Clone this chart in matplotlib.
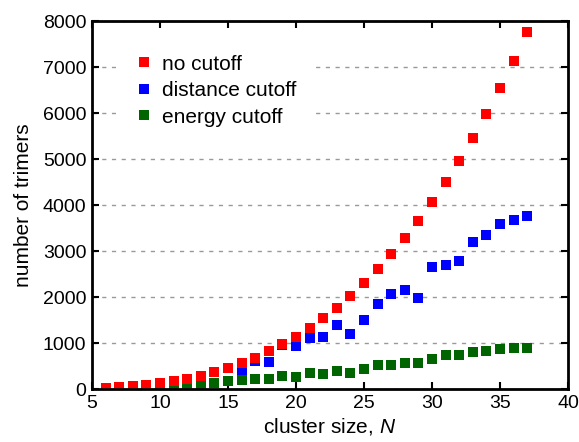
import matplotlib
matplotlib.use("Agg")
import matplotlib.pyplot as plt
from matplotlib.lines import Line2D

# ---- data ----
cluster_size = list(range(6, 38))
no_cutoff = [20, 35, 56, 84, 120, 165, 220, 286, 364, 455, 560, 680, 816, 969,
             1140, 1330, 1540, 1771, 2024, 2300, 2600, 2925, 3276, 3654, 4060,
             4495, 4960, 5456, 5984, 6545, 7140, 7770]
distance_cutoff = [20, 35, 56, 84, 120, 165, 220, 286, 364, 455, 410, 615, 590,
                   960, 938, 1115, 1137, 1391, 1203, 1493, 1841, 2058, 2145, 1985,
                   2645, 2696, 2783, 3189, 3348, 3580, 3667, 3768]
energy_cutoff = [5, 8, 12, 18, 25, 30, 40, 70, 130, 167, 189, 207, 207, 283, 261,
                 348, 333, 391, 355, 442, 514, 529, 565, 558, 659, 739, 739, 797,
                 819, 862, 891, 891]
series_labels = ["no cutoff", "distance cutoff", "energy cutoff"]
x_ticks = [5, 10, 15, 20, 25, 30, 35, 40]
y_ticks = [0, 1000, 2000, 3000, 4000, 5000, 6000, 7000, 8000]

plt.rcParams['font.family'] = ['Liberation Sans', 'DejaVu Sans']
plt.rcParams['mathtext.fontset'] = 'custom'
plt.rcParams['mathtext.rm'] = 'Liberation Sans'
plt.rcParams['mathtext.it'] = 'Liberation Sans:italic'

fig = plt.figure(figsize=(5.79, 4.42), dpi=100)
ax = fig.add_axes([92/579, 53/442, 476/579, 368/442])

ms = 7.3
ax.plot(cluster_size, energy_cutoff, 's', color='#006400', ms=ms, mew=0, zorder=3)
ax.plot(cluster_size, distance_cutoff, 's', color='#0000FF', ms=ms, mew=0, zorder=4)
ax.plot(cluster_size, no_cutoff, 's', color='#FF0000', ms=ms, mew=0, zorder=5)

ax.set_xlim(5, 40)
ax.set_ylim(0, 8000)
ax.set_xticks(x_ticks)
ax.set_yticks(y_ticks)
ax.tick_params(direction='in', length=5, width=1.5, top=True, right=True,
               labelsize=14, pad=4)
for sp in ax.spines.values():
    sp.set_linewidth(2)
    sp.set_zorder(10)

ax.yaxis.grid(True, linestyle=(0, (3, 4)), color='#999999', linewidth=1)
ax.set_axisbelow(True)

ax.set_xlabel(r'cluster size, $N$', fontsize=15, labelpad=3)
ax.set_ylabel('number of trimers', fontsize=15, labelpad=7)

handles = [Line2D([], [], ls='none', marker='s', color=c, ms=ms, mew=0)
           for c in ['#FF0000', '#0000FF', '#006400']]
leg = ax.legend(handles, series_labels, loc='upper left',
                bbox_to_anchor=(0.05, 0.962), fontsize=15, frameon=True,
                facecolor='white', edgecolor='none', framealpha=1,
                handlelength=0.8, handletextpad=0.45, labelspacing=0.36,
                borderpad=0.95, borderaxespad=0)
leg.set_zorder(6)

fig.savefig('out.png', dpi=100)
